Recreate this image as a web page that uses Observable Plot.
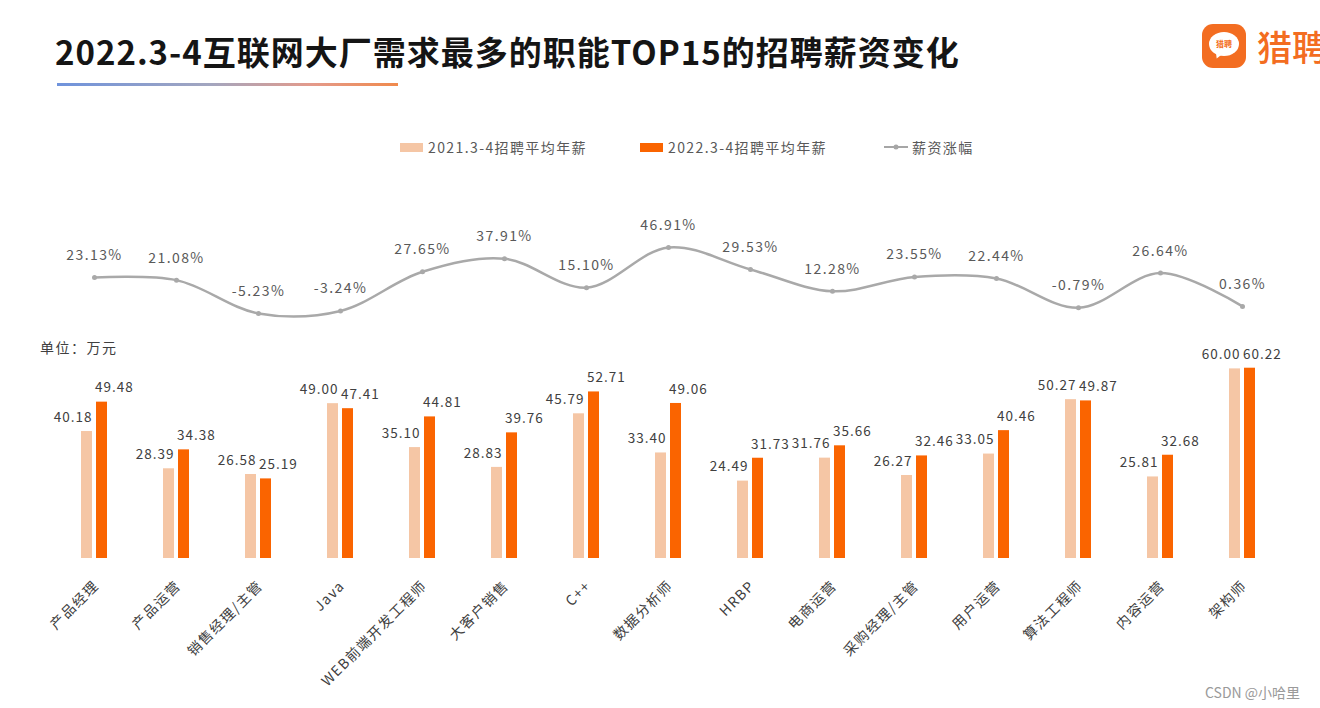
<!DOCTYPE html>
<html><head><meta charset="utf-8">
<script src="https://cdn.jsdelivr.net/npm/d3@7"></script>
<script src="https://cdn.jsdelivr.net/npm/@observablehq/plot@0.6"></script>
<style>
html,body{margin:0;padding:0;background:#fff;}
#page{position:relative;width:1320px;height:708px;overflow:hidden;background:#fff;font-family:"Noto Sans CJK SC","Noto Sans",sans-serif;}
#title{position:absolute;left:55px;top:28px;font-size:33px;font-weight:700;color:#151515;letter-spacing:1px;white-space:nowrap;line-height:46px;}
#underline{position:absolute;left:57px;top:83px;width:341px;height:3px;background:linear-gradient(90deg,#6f93dc 0%,#a3a6bf 45%,#e49a8a 75%,#f08a4c 100%);}
#logo{position:absolute;left:1202px;top:24px;width:44px;height:44px;border-radius:11px;background:#f36d21;}
#bubble{position:absolute;left:7px;top:8px;width:30px;height:24px;border-radius:50%;background:#fff;color:#f36d21;font-size:8px;font-weight:700;line-height:24px;text-align:center;letter-spacing:0;}
#tail{position:absolute;left:12px;top:27px;width:0;height:0;border-left:4px solid transparent;border-right:5px solid transparent;border-top:8px solid #fff;transform:rotate(20deg);}
#brand{position:absolute;left:1257px;top:23px;font-size:35px;color:#f36d21;line-height:46px;white-space:nowrap;font-weight:500;}
.leg{position:absolute;top:137px;font-size:14px;color:#595959;letter-spacing:1.4px;line-height:20px;white-space:nowrap;}
.sw{position:absolute;top:143px;width:23px;height:9px;}
#unit{position:absolute;left:40px;top:337px;font-size:14px;color:#404040;letter-spacing:1.5px;line-height:20px;}
#wm{position:absolute;left:1205px;top:682px;font-size:14px;color:#9a9a9a;line-height:20px;white-space:nowrap;}
.plot{position:absolute;left:0;}
.plot svg text{letter-spacing:1.4px;}
#barChart svg g[aria-label="text"] text{letter-spacing:1px;}
</style></head>
<body><div id="page">
<div id="title">2022.3-4互联网大厂需求最多的职能TOP15的招聘薪资变化</div>
<div id="underline"></div>
<div id="logo"><div id="tail"></div><div id="bubble">猎聘</div></div>
<div id="brand">猎聘</div>
<div class="sw" style="left:400px;background:#f5c6a5"></div>
<div class="leg" style="left:428px">2021.3-4招聘平均年薪</div>
<div class="sw" style="left:640px;background:#fa6400"></div>
<div class="leg" style="left:668px">2022.3-4招聘平均年薪</div>
<svg style="position:absolute;left:883px;top:141px" width="26" height="12"><line x1="1" y1="6" x2="25" y2="6" stroke="#a6a6a6" stroke-width="2"/><circle cx="13" cy="6" r="2.5" fill="#a6a6a6"/></svg>
<div class="leg" style="left:912px">薪资涨幅</div>
<div id="unit">单位：万元</div>
<div id="lineChart" class="plot" style="top:200px"></div>
<div id="barChart" class="plot" style="top:330px"></div>
<div id="wm">CSDN @小哈里</div>
</div>
<script>
const categories = ["产品经理","产品运营","销售经理/主管","Java","WEB前端开发工程师","大客户销售","C++","数据分析师","HRBP","电商运营","采购经理/主管","用户运营","算法工程师","内容运营","架构师"];
const salary2021 = [40.18,28.39,26.58,49.00,35.10,28.83,45.79,33.40,24.49,31.76,26.27,33.05,50.27,25.81,60.00];
const salary2022 = [49.48,34.38,25.19,47.41,44.81,39.76,52.71,49.06,31.73,35.66,32.46,40.46,49.87,32.68,60.22];
const growth = [23.13,21.08,-5.23,-3.24,27.65,37.91,15.10,46.91,29.53,12.28,23.55,22.44,-0.79,26.64,0.36];

const data = categories.map((c, i) => ({cat: c, v21: salary2021[i], v22: salary2022[i], g: growth[i]}));
const font = '"Noto Sans CJK SC","Noto Sans",sans-serif';
const xOpts = {type: "band", domain: categories, paddingInner: 0.6818, paddingOuter: 0.5, align: 0.5};
const mL = 36.4, mR = 19.5;

const lineChart = Plot.plot({
  width: 1320, height: 130,
  marginLeft: mL, marginRight: mR, marginTop: 43, marginBottom: 11,
  style: {fontFamily: font, background: "transparent", overflow: "visible"},
  x: {...xOpts, axis: null},
  y: {domain: [-10, 50], axis: null},
  marks: [
    Plot.line(data, {x: "cat", y: "g", curve: "catmull-rom", stroke: "#a9a9a9", strokeWidth: 2.5}),
    Plot.dot(data, {x: "cat", y: "g", r: 2.5, fill: "#a9a9a9"}),
    Plot.text(data, {x: "cat", y: "g", text: d => d.g.toFixed(2) + "%", dy: -22, fill: "#595959", fontSize: 14})
  ]
});
document.getElementById("lineChart").appendChild(lineChart);

const barChart = Plot.plot({
  width: 1320, height: 378,
  marginLeft: mL, marginRight: mR, marginTop: 22.6, marginBottom: 150,
  style: {fontFamily: font, background: "transparent", overflow: "visible"},
  x: {...xOpts, label: null},
  y: {domain: [0, 65], axis: null},
  marks: [
    Plot.barY(data, {x: "cat", y: "v21", fill: "#f5c6a5", insetRight: 15}),
    Plot.barY(data, {x: "cat", y: "v22", fill: "#fa6400", insetLeft: 15}),
    Plot.text(data, {x: "cat", y: "v21", text: d => d.v21.toFixed(2), textAnchor: "end", dx: -2, dy: -14, fill: "#404040", fontSize: 13.5}),
    Plot.text(data, {x: "cat", y: "v22", text: d => d.v22.toFixed(2), textAnchor: "start", dx: 0.5, dy: -14, fill: "#404040", fontSize: 13.5}),
    Plot.axisX({tickRotate: -45, tickSize: 0, tickPadding: 3, fontSize: 14, fill: "#404040", dx: 2, dy: 22, label: null})
  ]
});
document.getElementById("barChart").appendChild(barChart);
</script>
</body></html>
